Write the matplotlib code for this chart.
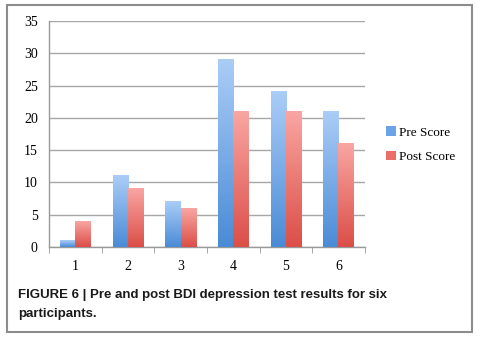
import numpy as np
import matplotlib
matplotlib.use('Agg')
import matplotlib.pyplot as plt
from matplotlib.patches import Rectangle, Patch
from matplotlib.colors import LinearSegmentedColormap

participants = ['1', '2', '3', '4', '5', '6']
pre_score = [1, 11, 7, 29, 24, 21]
post_score = [4, 9, 6, 21, 21, 16]
yticks = [0, 5, 10, 15, 20, 25, 30, 35]
caption = 'FIGURE 6 | Pre and post BDI depression test results for six\nparticipants.'

BLUE = LinearSegmentedColormap.from_list('blue', ['#4a8bd6', '#abcdf7'])
RED = LinearSegmentedColormap.from_list('red', ['#dc4e48', '#f9a6a2'])

fig = plt.figure(figsize=(4.8, 3.37), dpi=100)
ax = fig.add_axes([0.102, 0.267, 0.658, 0.671])

x = np.arange(len(participants))
w = 0.29
bars_pre = ax.bar(x - w / 2, pre_score, w, color='none', zorder=3)
bars_post = ax.bar(x + w / 2, post_score, w, color='none', zorder=3)

grad = np.linspace(0, 1, 256).reshape(-1, 1)
for bars, cmap in ((bars_pre, BLUE), (bars_post, RED)):
    for b in bars:
        x0, y0 = b.get_x(), b.get_y()
        ax.imshow(grad, cmap=cmap, origin='lower', aspect='auto', zorder=3,
                  extent=(x0, x0 + b.get_width(), y0, y0 + b.get_height()))

ax.set_xlim(-0.5, len(participants) - 0.5)
ax.set_ylim(0, 35)
ax.set_yticks(yticks)
ax.set_yticklabels([str(t) for t in yticks], family='Liberation Serif', fontsize=10)
ax.set_xticks(x)
ax.set_xticklabels(participants, family='Liberation Serif', fontsize=10)
ax.set_xticks(np.arange(len(participants) + 1) - 0.5, minor=True)
ax.tick_params(axis='x', which='major', length=0, pad=9)
ax.tick_params(axis='x', which='minor', length=4, color='#999999', direction='out')
ax.tick_params(axis='y', length=0, pad=8)
ax.yaxis.grid(True, color='#a6a6a6', lw=1)
ax.set_axisbelow(True)
for s in ('top', 'right'):
    ax.spines[s].set_visible(False)
for s in ('left', 'bottom'):
    ax.spines[s].set_color('#999999')
    ax.spines[s].set_linewidth(1)

handles = [Patch(facecolor='#6ba3e6', label='Pre Score'),
           Patch(facecolor='#ea6e69', label='Post Score')]
fig.legend(handles=handles, loc='center left', bbox_to_anchor=(0.78, 0.57),
           frameon=False, prop={'family': 'Liberation Serif', 'size': 9.5},
           handlelength=0.7, handleheight=0.7, handletextpad=0.25, labelspacing=0.95)

fig.patches.append(Rectangle((7 / 480, 5 / 337), 465 / 480, 327 / 337, transform=fig.transFigure,
                             fill=False, edgecolor='#8c8c8c', lw=1.5))
fig.text(18 / 480, 1 - 289 / 337, caption, fontsize=9.5, fontweight='bold',
         family='Liberation Sans', color='#1a1a1a', va='top', linespacing=1.75)

fig.savefig('out.png', dpi=100)
